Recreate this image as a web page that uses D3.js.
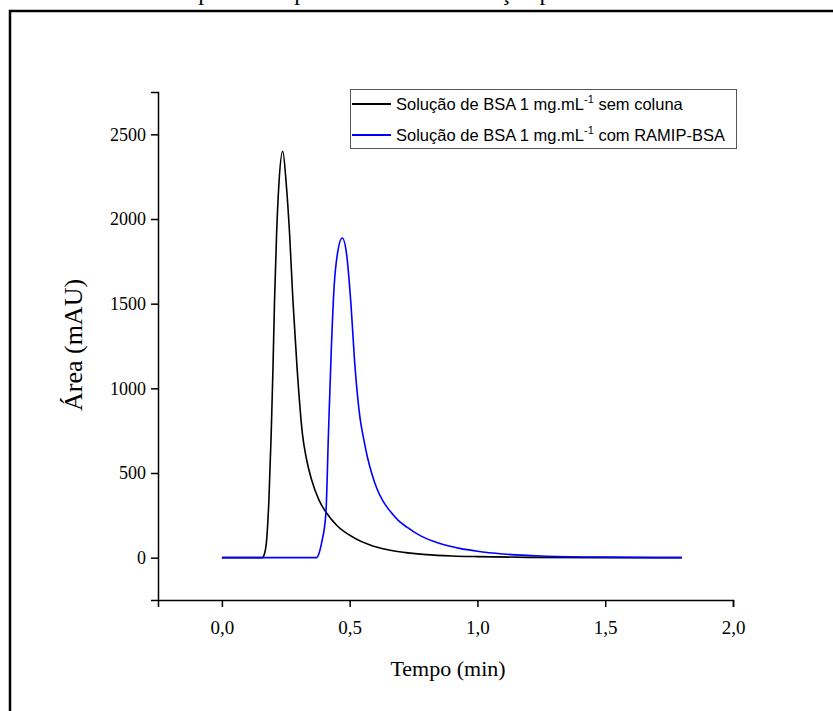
<!DOCTYPE html>
<html>
<head>
<meta charset="utf-8">
<script src="https://cdn.jsdelivr.net/npm/d3@7"></script>
<style>
  html, body { margin: 0; padding: 0; background: #fff; }
  svg { display: block; }
</style>
</head>
<body>
<div id="chart"></div>
<script>
// black: BSA solution without column
const timeBlack = [0, 0.10, 0.158, 0.166, 0.174, 0.184, 0.193, 0.200, 0.206, 0.214, 0.223, 0.238, 0.252, 0.265, 0.278, 0.294, 0.315, 0.330, 0.351, 0.380, 0.409, 0.450, 0.514, 0.580, 0.645, 0.720, 0.800, 0.900, 1.0, 1.2, 1.5, 1.8];
const areaBlack = [0, 0, 0, 20, 86, 341, 733, 1125, 1518, 1910, 2204, 2400, 2204, 1910, 1518, 1125, 733, 590, 460, 340, 265, 190, 120, 75, 48, 30, 18, 10, 6, 2, 0, 0];

// blue: BSA solution with RAMIP-BSA
const timeBlue = [0, 0.20, 0.370, 0.380, 0.390, 0.407, 0.417, 0.428, 0.439, 0.454, 0.471, 0.488, 0.504, 0.521, 0.540, 0.555, 0.570, 0.588, 0.606, 0.630, 0.658, 0.690, 0.724, 0.776, 0.850, 0.930, 1.0, 1.1, 1.25, 1.5, 1.8];
const areaBlue = [0, 0, 0, 25, 86, 263, 733, 1224, 1596, 1812, 1888, 1792, 1518, 1125, 831, 700, 590, 490, 410, 335, 275, 220, 180, 130, 85, 55, 38, 22, 10, 3, 0];

const xTicks = [0, 0.5, 1.0, 1.5, 2.0];
const yTicks = [0, 500, 1000, 1500, 2000, 2500];
const legendLabels = ["sem coluna", "com RAMIP-BSA"];

const width = 833, height = 711;
const svg = d3.select("#chart").append("svg")
    .attr("width", width)
    .attr("height", height);

const serif = "Liberation Serif, Times New Roman, serif";

// caption line of the page above, cut off at the top edge
svg.append("text")
    .attr("x", 95)
    .attr("y", 0)
    .attr("font-family", serif)
    .attr("font-size", 24)
    .text("Modelos típicos dos perfis obtidos na solução padrão sem coluna e com a carga");

// page frame
svg.append("path")
    .attr("d", "M10,711 V11 H833")
    .attr("fill", "none")
    .attr("stroke", "#000")
    .attr("stroke-width", 2.5);

const x = d3.scaleLinear().domain([-0.25, 2.0]).range([158, 733]);
const y = d3.scaleLinear().domain([-250, 2750]).range([600, 92]);

// axes
const xAxis = svg.append("g").attr("transform", "translate(0,600)");
xAxis.call(d3.axisBottom(x).tickValues(d3.range(-0.25, 2.01, 0.25)).tickSize(4).tickFormat(""));
xAxis.call(d3.axisBottom(x).tickValues(xTicks).tickSize(7).tickPadding(14)
    .tickFormat(d => d3.format(".1f")(d).replace(".", ",")));
xAxis.selectAll(".domain").attr("stroke-width", 1.5);
xAxis.selectAll("line").attr("stroke-width", 1.5);
xAxis.selectAll("text").attr("font-family", serif).attr("font-size", 19).attr("fill", "#000");

const yAxis = svg.append("g").attr("transform", "translate(158,0)");
yAxis.call(d3.axisLeft(y).tickValues(d3.range(-250, 2751, 250)).tickSize(4).tickFormat(""));
yAxis.call(d3.axisLeft(y).tickValues(yTicks).tickSize(7).tickPadding(5).tickFormat(d3.format("d")));
yAxis.selectAll(".domain").attr("stroke-width", 1.5);
yAxis.selectAll("line").attr("stroke-width", 1.5);
yAxis.selectAll("text").attr("font-family", serif).attr("font-size", 18).attr("fill", "#000");

// axis titles
svg.append("text")
    .attr("x", 448).attr("y", 676)
    .attr("text-anchor", "middle")
    .attr("font-family", serif).attr("font-size", 22)
    .text("Tempo (min)");

svg.append("text")
    .attr("transform", "translate(82,345) rotate(-90)")
    .attr("text-anchor", "middle")
    .attr("font-family", serif).attr("font-size", 26)
    .text("Área (mAU)");

// curves
const line = d3.line()
    .x(d => x(d[0]))
    .y(d => y(d[1]))
    .curve(d3.curveMonotoneX);

svg.append("path")
    .datum(d3.zip(timeBlack, areaBlack))
    .attr("d", line)
    .attr("fill", "none")
    .attr("stroke", "#000")
    .attr("stroke-width", 1.6);

svg.append("path")
    .datum(d3.zip(timeBlue, areaBlue))
    .attr("d", line)
    .attr("fill", "none")
    .attr("stroke", "#0000ff")
    .attr("stroke-width", 1.6);

// legend
const legend = svg.append("g");
legend.append("rect")
    .attr("x", 350.5).attr("y", 89.5)
    .attr("width", 386).attr("height", 59)
    .attr("fill", "#fff")
    .attr("stroke", "#555")
    .attr("stroke-width", 1);

const colors = ["#000", "#0000ff"];
legendLabels.forEach((lab, i) => {
    const ly = 104 + i * 31;
    legend.append("line")
        .attr("x1", 352).attr("x2", 391)
        .attr("y1", ly).attr("y2", ly)
        .attr("stroke", colors[i]).attr("stroke-width", 1.8);
    const t = legend.append("text")
        .attr("x", 396).attr("y", ly + 6)
        .attr("font-family", "Liberation Sans, Arial, sans-serif")
        .attr("font-size", 16.5)
        .attr("fill", "#000");
    t.append("tspan").text("Solução de BSA 1 mg.mL");
    t.append("tspan").attr("font-size", 11).attr("dy", -7).text("-1");
    t.append("tspan").attr("dy", 7).text(" " + lab);
});
</script>
</body>
</html>
